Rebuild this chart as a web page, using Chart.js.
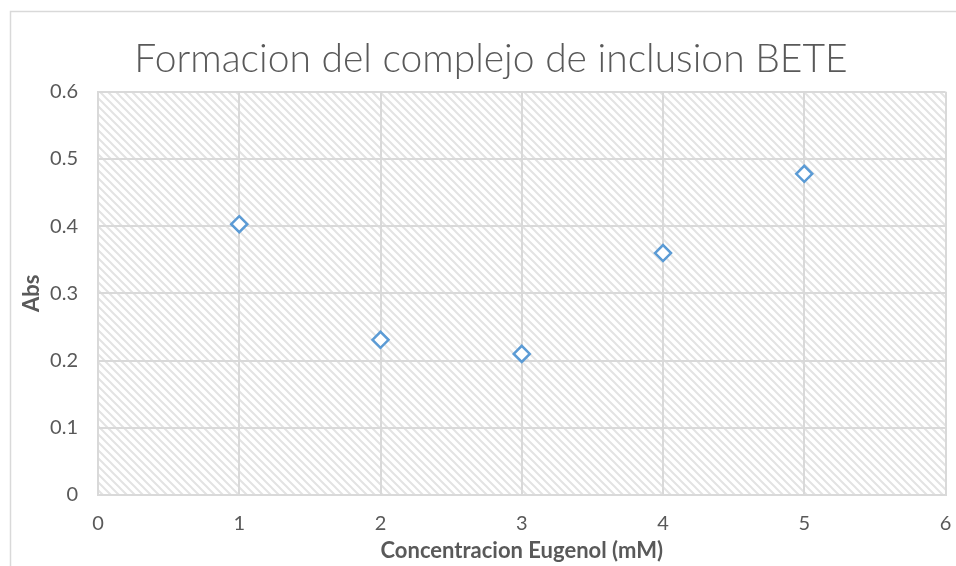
<!DOCTYPE html>
<html>
<head>
<meta charset="utf-8">
<script src="https://cdn.jsdelivr.net/npm/chart.js@4/dist/chart.umd.min.js"></script>
<style>
  html, body { margin: 0; padding: 0; background: #ffffff; }
  #wrap { width: 956px; height: 566px; }
</style>
</head>
<body>
<div id="wrap"><canvas id="chart" width="956" height="566"></canvas></div>
<script>
// Absorbance of the inclusion complex vs. eugenol concentration
const concentrations = [1, 2, 3, 4, 5];          // mM
const absorbance     = [0.403, 0.231, 0.210, 0.360, 0.478];
const xTickValues    = [0, 1, 2, 3, 4, 5, 6];
const yTickValues    = [0, 0.1, 0.2, 0.3, 0.4, 0.5, 0.6];

const chartTitle = 'Formacion del complejo de inclusion BETE';
const xTitle = 'Concentracion Eugenol (mM)';
const yTitle = 'Abs';

const textColor = '#595959';
const gridColor = '#d9d9d9';
const markerColor = '#5b9bd5';
const fontFamily = 'Lato, "Open Sans", "Liberation Sans", sans-serif';

// Light diagonal hatch used as the plot-area fill
function makeHatch() {
  const c = document.createElement('canvas');
  c.width = 8; c.height = 8;
  const g = c.getContext('2d');
  g.fillStyle = '#ffffff';
  g.fillRect(0, 0, 8, 8);
  g.strokeStyle = '#e3e3e3';
  g.lineWidth = 2;
  g.beginPath();
  g.moveTo(-2, -2); g.lineTo(10, 10);
  g.moveTo(-10, -2); g.lineTo(2, 10);
  g.moveTo(6, -2); g.lineTo(18, 10);
  g.stroke();
  return g.createPattern(c, 'repeat');
}

const framePlugin = {
  id: 'frame',
  beforeDraw(chart) {
    const ctx = chart.ctx;
    const a = chart.chartArea;
    ctx.save();
    // outer chart frame
    ctx.strokeStyle = gridColor;
    ctx.lineWidth = 1.5;
    ctx.beginPath();
    ctx.moveTo(10.5, chart.height);
    ctx.lineTo(10.5, 11.5);
    ctx.lineTo(chart.width, 11.5);
    ctx.stroke();
    // plot area hatch
    ctx.fillStyle = makeHatch();
    ctx.fillRect(a.left, a.top, a.right - a.left, a.bottom - a.top);
    ctx.restore();
  }
};

function fixedSize(size, horizontal) {
  return function (scale) {
    if (horizontal) {
      scale.height = size;
      scale.paddingLeft = 0;
      scale.paddingRight = 0;
    } else {
      scale.width = size;
    }
  };
}

new Chart(document.getElementById('chart'), {
  type: 'scatter',
  data: {
    datasets: [{
      label: yTitle,
      data: concentrations.map((x, i) => ({ x: x, y: absorbance[i] })),
      pointStyle: 'rectRot',
      pointRadius: 8,
      pointHoverRadius: 8,
      pointBorderWidth: 2.5,
      pointBorderColor: markerColor,
      pointBackgroundColor: '#ffffff',
      showLine: false
    }]
  },
  options: {
    responsive: false,
    animation: false,
    events: [],
    layout: { padding: { left: 34, right: 8, top: 0, bottom: 0 } },
    plugins: {
      legend: { display: false },
      tooltip: { enabled: false },
      title: {
        display: true,
        text: chartTitle,
        color: textColor,
        font: { family: fontFamily, size: 39, weight: '300' },
        padding: { top: 36, bottom: 9 }
      }
    },
    scales: {
      x: {
        type: 'linear',
        min: 0, max: 6,
        afterBuildTicks: (s) => { s.ticks = xTickValues.map(v => ({ value: v })); },
        afterFit: fixedSize(71, true),
        ticks: { color: textColor, font: { family: fontFamily, size: 20 }, padding: 17 },
        grid: { color: gridColor, lineWidth: 2, drawTicks: false },
        border: { color: gridColor, width: 2 },
        title: {
          display: true, text: xTitle, color: textColor,
          font: { family: fontFamily, size: 22, weight: 'bold' },
          padding: { top: 0, bottom: 1.8 }
        }
      },
      y: {
        type: 'linear',
        min: 0, max: 0.6,
        afterBuildTicks: (s) => { s.ticks = yTickValues.map(v => ({ value: v })); },
        afterFit: fixedSize(64, false),
        ticks: {
          color: textColor, font: { family: fontFamily, size: 20 }, padding: 20,
          callback: (v) => String(Math.round(v * 10) / 10)
        },
        grid: { color: gridColor, lineWidth: 2, drawTicks: false },
        border: { color: gridColor, width: 2 },
        title: {
          display: true, text: yTitle, color: textColor,
          font: { family: fontFamily, size: 22, weight: 'bold' },
          padding: { top: -15.2, bottom: 0 }
        }
      }
    }
  },
  plugins: [framePlugin]
});
</script>
</body>
</html>
